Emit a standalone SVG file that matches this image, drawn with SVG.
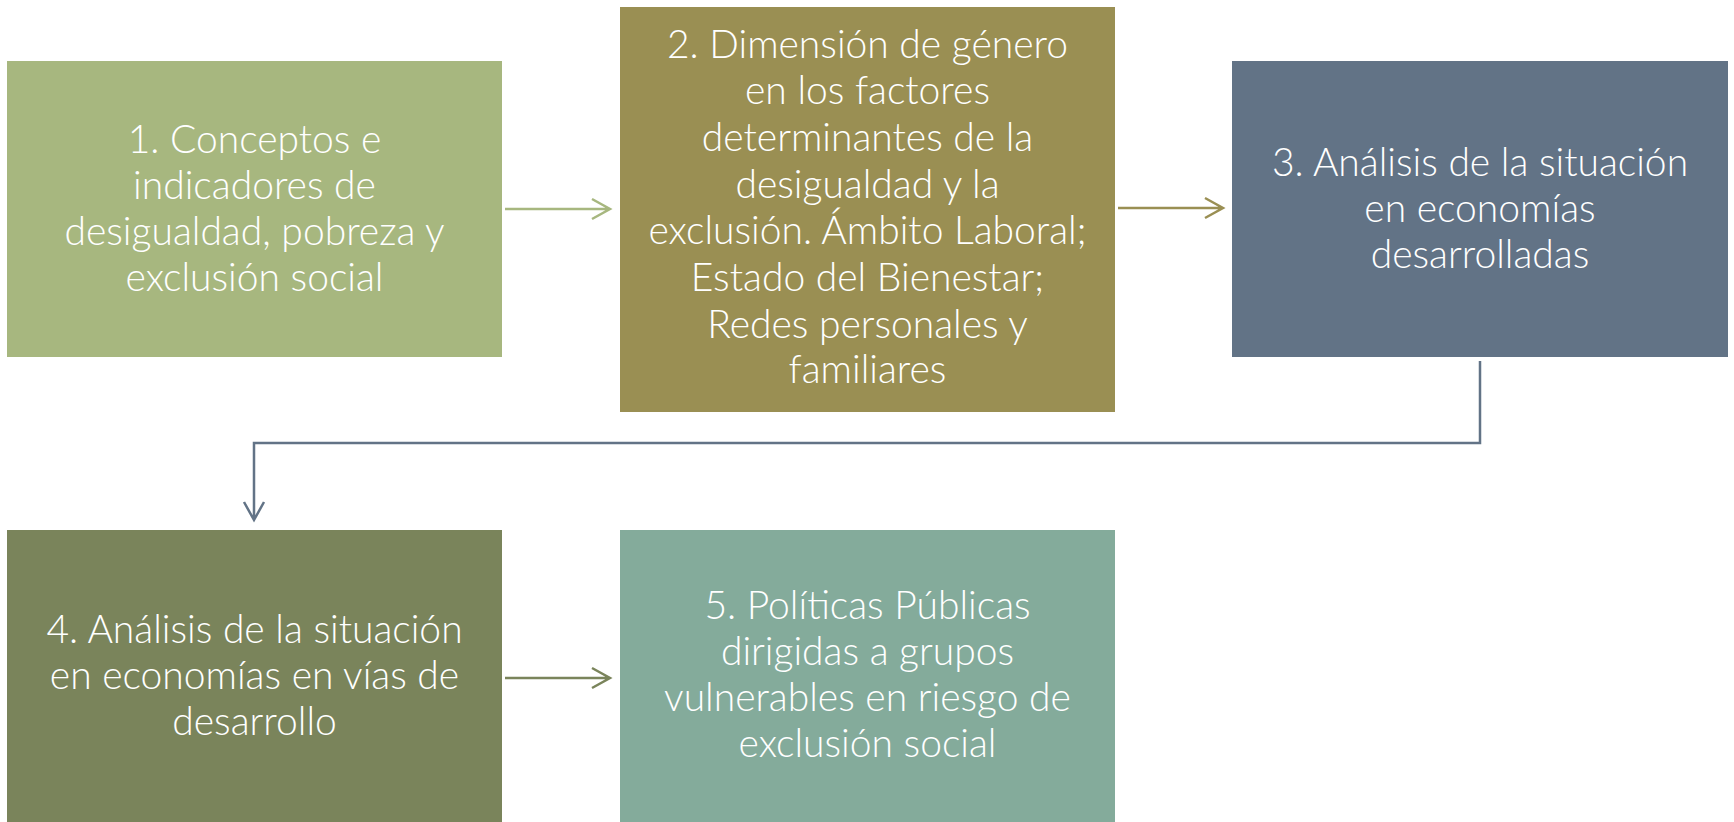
<svg xmlns="http://www.w3.org/2000/svg" width="1734" height="822" viewBox="0 0 1734 822">
<style>
.t{font-family:"Lato","Open Sans","Liberation Sans",sans-serif;font-weight:300;font-size:39px;fill:#ffffff;text-anchor:middle}
.c{fill:none;stroke-width:2.5}
</style>
<rect width="1734" height="822" fill="#ffffff"/>
<g id="node1"><rect x="7" y="61" width="495" height="296" fill="#A7B77F"/>
<text class="t" x="254.5" y="153">1. Conceptos e</text>
<text class="t" x="254.5" y="199">indicadores de</text>
<text class="t" x="254.5" y="245">desigualdad, pobreza y</text>
<text class="t" x="254.5" y="291">exclusión social</text></g>
<g id="node2"><rect x="620" y="7" width="495" height="405" fill="#9A8F53"/>
<text class="t" x="867.5" y="58">2. Dimensión de género</text>
<text class="t" x="867.5" y="104">en los factores</text>
<text class="t" x="867.5" y="151">determinantes de la</text>
<text class="t" x="867.5" y="198">desigualdad y la</text>
<text class="t" x="867.5" y="244">exclusión. Ámbito Laboral;</text>
<text class="t" x="867.5" y="291">Estado del Bienestar;</text>
<text class="t" x="867.5" y="338">Redes personales y</text>
<text class="t" x="867.5" y="383">familiares</text></g>
<g id="node3"><rect x="1232" y="61" width="496" height="296" fill="#627386"/>
<text class="t" x="1480" y="176">3. Análisis de la situación</text>
<text class="t" x="1480" y="222">en economías</text>
<text class="t" x="1480" y="268">desarrolladas</text></g>
<g id="node4"><rect x="7" y="530" width="495" height="296" fill="#7A845B"/>
<text class="t" x="254.5" y="643">4. Análisis de la situación</text>
<text class="t" x="254.5" y="689">en economías en vías de</text>
<text class="t" x="254.5" y="735">desarrollo</text></g>
<g id="node5"><rect x="620" y="530" width="495" height="296" fill="#84AB9B"/>
<text class="t" x="867.5" y="619">5. Políticas Públicas</text>
<text class="t" x="867.5" y="665">dirigidas a grupos</text>
<text class="t" x="867.5" y="711">vulnerables en riesgo de</text>
<text class="t" x="867.5" y="757">exclusión social</text></g>
<g id="connectors">
<path class="c" stroke="#A7B77F" d="M505 209H610M592 199L610 209L592 219"/>
<path class="c" stroke="#9A8F53" d="M1118 208H1223M1205 198L1223 208L1205 218"/>
<path class="c" stroke="#627386" d="M1480 361V443H254V520M244 502L254 520L264 502"/>
<path class="c" stroke="#7A845B" d="M505 678H610M592 668L610 678L592 688"/>
</g>
</svg>
